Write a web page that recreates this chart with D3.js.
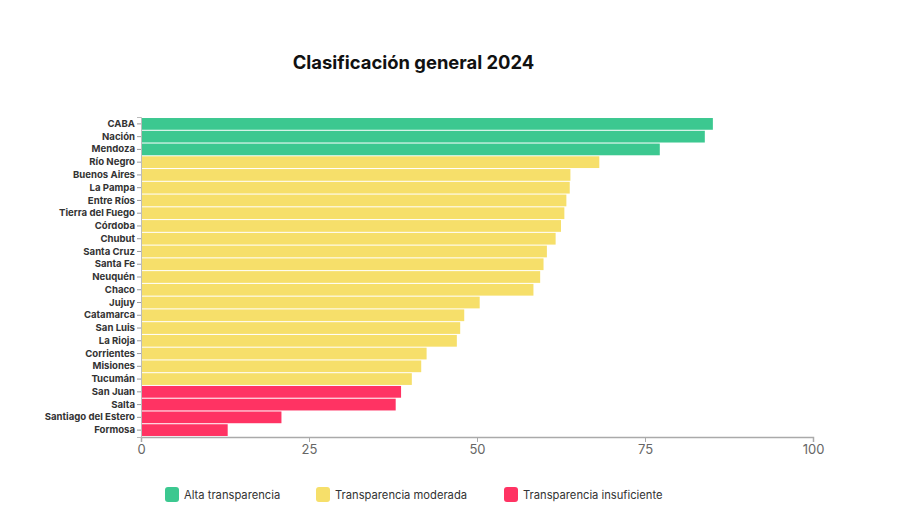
<!DOCTYPE html>
<html>
<head>
<meta charset="utf-8">
<script src="https://cdn.jsdelivr.net/npm/d3@7"></script>
<style>
  body { margin: 0; background: #fff; font-family: Inter, "Noto Sans", sans-serif; }
</style>
</head>
<body>
<div id="chart"></div>
<script>
const provinces = ["CABA", "Nación", "Mendoza", "Río Negro", "Buenos Aires", "La Pampa", "Entre Ríos",
  "Tierra del Fuego", "Córdoba", "Chubut", "Santa Cruz", "Santa Fe", "Neuquén", "Chaco", "Jujuy",
  "Catamarca", "San Luis", "La Rioja", "Corrientes", "Misiones", "Tucumán", "San Juan", "Salta",
  "Santiago del Estero", "Formosa"];
const scores = [85.1, 83.9, 77.2, 68.2, 63.9, 63.8, 63.3, 63.0, 62.5, 61.7, 60.4, 59.9, 59.4, 58.4, 50.4,
  48.1, 47.5, 47.0, 42.5, 41.7, 40.3, 38.7, 37.9, 20.9, 12.9];
const levels = ["alta", "alta", "alta", "mod", "mod", "mod", "mod", "mod", "mod", "mod", "mod", "mod",
  "mod", "mod", "mod", "mod", "mod", "mod", "mod", "mod", "mod", "ins", "ins", "ins", "ins"];
const levelKeys = ["alta", "mod", "ins"];
const levelNames = ["Alta transparencia", "Transparencia moderada", "Transparencia insuficiente"];
const xTicks = [0, 25, 50, 75, 100];

const width = 898, height = 520;
const margin = { top: 117, right: 85, bottom: 83, left: 141 };

const svg = d3.select("#chart").append("svg")
  .attr("width", width).attr("height", height);

const color = d3.scaleOrdinal().domain(levelKeys).range(["#3cc890", "#f6df6a", "#ff3363"]);

const x = d3.scaleLinear().domain([0, 100]).range([margin.left, width - margin.right]);
const y = d3.scaleBand().domain(provinces).range([margin.top, height - margin.bottom]).padding(0.08);

const data = provinces.map((p, i) => ({ name: p, value: scores[i], level: levels[i] }));

svg.append("text")
  .attr("x", 413.5).attr("y", 68.5)
  .attr("text-anchor", "middle")
  .attr("font-size", 18.4).attr("font-weight", 700).attr("fill", "#111")
  .text("Clasificación general 2024");

svg.append("g").selectAll("rect")
  .data(data)
  .join("rect")
  .attr("x", x(0))
  .attr("y", d => y(d.name))
  .attr("width", d => x(d.value) - x(0))
  .attr("height", y.bandwidth())
  .attr("fill", d => color(d.level));

const xAxis = svg.append("g")
  .attr("transform", `translate(0,${height - margin.bottom})`)
  .call(d3.axisBottom(x).tickValues(xTicks).tickSize(5).tickPadding(3));
xAxis.select(".domain").attr("stroke", "#aaa").attr("stroke-width", 1.5);
xAxis.selectAll(".tick line").attr("stroke", "#aaa");
xAxis.selectAll(".tick text").attr("fill", "#666").attr("font-size", 13).attr("font-family", "Inter, sans-serif");

const yAxis = svg.append("g")
  .attr("transform", `translate(${margin.left},0)`)
  .call(d3.axisLeft(y).tickSize(4).tickPadding(2));
yAxis.select(".domain").attr("stroke", "#bbb").attr("stroke-width", 1);
yAxis.selectAll(".tick line").attr("stroke", "#999");
yAxis.selectAll(".tick text").attr("fill", "#333").attr("font-size", 9.6).attr("font-weight", 700)
  .attr("font-family", "Inter, sans-serif");

const legendX = [165, 316, 504];
const legend = svg.append("g").selectAll("g")
  .data(levelKeys)
  .join("g")
  .attr("transform", (d, i) => `translate(${legendX[i]},487)`);
legend.append("rect")
  .attr("width", 14).attr("height", 15).attr("rx", 3)
  .attr("fill", d => color(d));
legend.append("text")
  .attr("x", 19).attr("y", 11.5)
  .attr("font-size", 11.2).attr("fill", "#333")
  .text((d, i) => levelNames[i]);
</script>
</body>
</html>
